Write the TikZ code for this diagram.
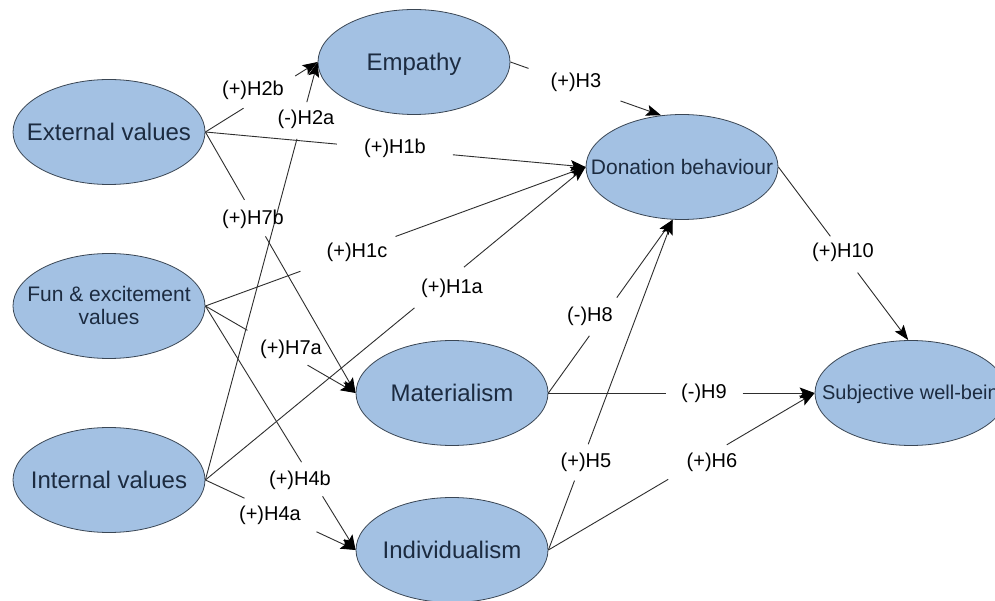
\documentclass[tikz,border=0pt]{standalone}
\usepackage{fontspec}
\setmainfont{Liberation Sans}
\usetikzlibrary{calc,arrows.meta,shapes.geometric}
\definecolor{ellfill}{HTML}{A3C1E3}
\definecolor{ellline}{HTML}{3A4654}
\definecolor{elltext}{HTML}{1C2B40}
\definecolor{edgecol}{HTML}{2E2E2E}
\newcommand\ctr[1]{\makebox[0pt]{\raisebox{-0.38em}[0pt][0pt]{\begin{tabular}{@{}c@{}}#1\end{tabular}}}}
\tikzset{
  var/.style={ellipse, draw=ellline, line width=0.8pt, fill=ellfill, text=elltext,
    minimum width=192pt, minimum height=105pt, inner sep=0pt,
    font=\fontsize{24}{26}\selectfont},
  smallvar/.style={var, font=\fontsize{21}{23}\selectfont},
  lbl/.style={inner sep=0pt, text=black, font=\fontsize{20}{22}\selectfont},
  edge/.style={draw=edgecol, line width=0.9pt},
  arr/.style={edge, -{Stealth[length=15pt,width=11pt,inset=3pt,fill=black,color=black]}}
}
\newcommand\hypedge[4]{%
  \draw[edge] (#1) -- ($(#1)!#3!(#2)$);
  \draw[arr] ($(#1)!#4!(#2)$) -- (#2);}
\begin{document}
\begin{tikzpicture}[x=1pt,y=-1pt]
\useasboundingbox (0,0) rectangle (995,601);
\fill[white] (0,0) rectangle (995,601);
\clip (0,0) rectangle (995,601);

% nodes
\node[var] (ext) at (109,132) {\ctr{External values}};
\node[var] (emp) at (414,62) {\ctr{Empathy}};
\node[smallvar] (don) at (682,167) {\ctr{Donation behaviour}};
\node[smallvar] (fun) at (109,306) {\ctr{Fun \& excitement\\values}};
\node[var] (int) at (109,480) {\ctr{Internal values}};
\node[var] (mat) at (452,393) {\ctr{Materialism}};
\node[var] (ind) at (452,550) {\ctr{Individualism}};
\node[var, font=\fontsize{20}{22}\selectfont] (swb) at (911,393) {\ctr{\hspace{10pt}Subjective well-being}};

% edges
\hypedge{ext.east}{emp.west}{0.34}{0.80}
\hypedge{ext.east}{don.west}{0.346}{0.651}
\hypedge{ext.east}{mat.west}{0.26}{0.40}
\hypedge{fun.east}{don.west}{0.25}{0.50}
\hypedge{fun.east}{mat.west}{0.28}{0.68}
\hypedge{fun.east}{ind.west}{0.64}{0.78}
\hypedge{int.east}{emp.west}{0.816}{0.904}
\hypedge{int.east}{don.west}{0.55}{0.68}
\hypedge{int.east}{ind.west}{0.26}{0.74}
\hypedge{emp.east}{don.112}{0.12}{0.73}
\hypedge{mat.east}{don.260}{0.33}{0.55}
\hypedge{mat.east}{swb.west}{0.44}{0.73}
\hypedge{ind.east}{don.260}{0.21}{0.32}
\hypedge{ind.east}{swb.west}{0.45}{0.67}
\hypedge{don.east}{swb.93}{0.40}{0.61}

% labels
\node[lbl] (l2b) at (253,90) {(+)H2b};
\node[lbl] (l2a) at (306,119) {(-)H2a};
\node[lbl] (l1b) at (395,148) {(+)H1b};
\node[lbl] (l7b) at (253,219) {(+)H7b};
\node[lbl] (l1c) at (357,252) {(+)H1c};
\node[lbl] (l1a) at (452,288) {(+)H1a};
\node[lbl] (l3) at (576,82) {(+)H3};
\node[lbl] (l10) at (843,252) {(+)H10};
\node[lbl] (l7a) at (291,349) {(+)H7a};
\node[lbl] (l4b) at (300,480) {(+)H4b};
\node[lbl] (l4a) at (270,515) {(+)H4a};
\node[lbl] (l8) at (590,316) {(-)H8};
\node[lbl] (l9) at (704,393) {(-)H9};
\node[lbl] (l5) at (586,462) {(+)H5};
\node[lbl] (l6) at (712,462) {(+)H6};
\end{tikzpicture}
\end{document}
